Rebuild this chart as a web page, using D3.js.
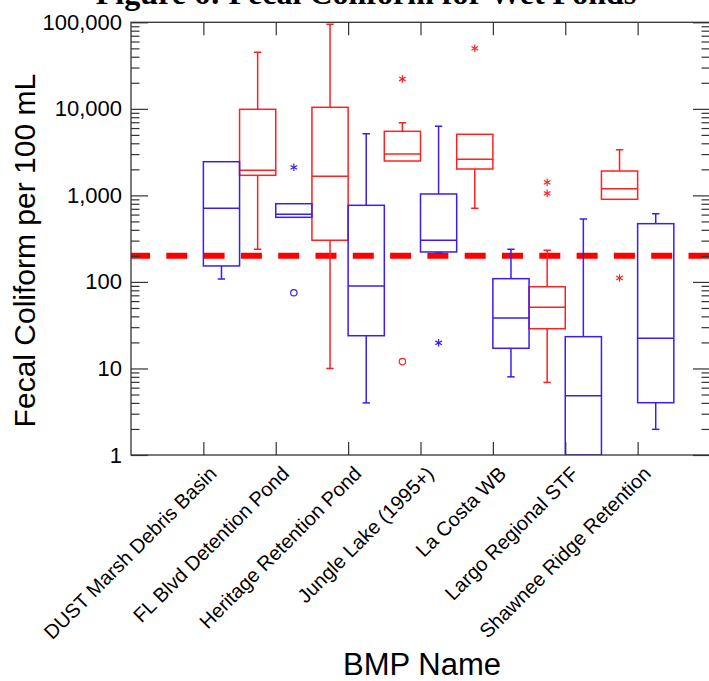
<!DOCTYPE html>
<html>
<head>
<meta charset="utf-8">
<script src="https://cdn.jsdelivr.net/npm/d3@7"></script>
<style>
  html, body { margin: 0; padding: 0; background: #fff; }
  svg { display: block; }
</style>
</head>
<body>
<div id="chart"></div>
<script>
// ---------------- data ----------------
const categories = ["DUST Marsh Debris Basin", "FL Blvd Detention Pond", "Heritage Retention Pond",
  "Jungle Lake (1995+)", "La Costa WB", "Largo Regional STF", "Shawnee Ridge Retention"];

// red boxes (left of each category tick)
const redMin    = [null, 238,   10,    2496, 709,  6.9,  901];
const redQ1     = [null, 1706,  303,   2496, 2018, 28.8, 901];
const redMedian = [null, 1946,  1663,  3007, 2612, 50.9, 1195];
const redQ3     = [null, 9880,  10420, 5500, 5080, 88,   1913];
const redMax    = [null, 44990, 94800, 6920, 5080, 232,  3373];

// blue boxes (right of each category tick)
const blueMin    = [108,  558, 4.0,  216,  8.0,  1,    1.98];
const blueQ1     = [153,  558, 23.9, 222,  17.1, 1,    4.02];
const blueMedian = [709,  604, 89.8, 303,  38.3, 4.85, 22.3];
const blueQ3     = [2449, 801, 768,  1038, 109,  23.3, 471];
const blueMax    = [2449, 801, 5164, 6282, 238,  533,  614];

// outliers: [category index, value, mark]
const redOutliers  = [[3, 22130, "*"], [3, 12, "o"], [4, 50070, "*"], [5, 1416, "*"], [5, 1057, "*"], [6, 111, "*"]];
const blueOutliers = [[1, 2110, "*"], [1, 75, "o"], [3, 19.8, "*"]];

const yMajorTicks = [1, 10, 100, 1000, 10000, 100000];
const threshold = [200];

const titleText = "Figure 6: Fecal Coliform for Wet Ponds";
const yTitle = "Fecal Coliform per 100 mL";
const xTitle = "BMP Name";

// ---------------- layout ----------------
const W = 709, H = 681;
const plot = { left: 131, right: 710, top: 22.3, bottom: 455 };
const RED = "#ff2020", BLUE = "#3a1ef0", AXIS = "#333";
const sans = "'Liberation Sans', Arial, sans-serif";

const svg = d3.select("#chart").append("svg").attr("width", W).attr("height", H);

const x = d3.scaleLinear().domain([0, categories.length + 1]).range([plot.left, plot.right]);
const y = d3.scaleLog().domain([1, 100000]).range([plot.bottom, plot.top]);
const boxW = x(0.5) - x(0);

const minorTicks = [];
yMajorTicks.slice(0, -1).forEach(d => { for (let k = 2; k <= 9; k++) minorTicks.push(d * k); });

svg.append("defs").append("clipPath").attr("id", "clip")
  .append("rect").attr("x", plot.left).attr("y", plot.top)
  .attr("width", plot.right - plot.left).attr("height", plot.bottom - plot.top);

const g = svg.append("g").attr("clip-path", "url(#clip)");

// threshold dashed line
g.selectAll("line.thr").data(threshold).join("line")
  .attr("class", "thr")
  .attr("x1", plot.left).attr("x2", plot.right)
  .attr("y1", d => y(d)).attr("y2", d => y(d))
  .attr("stroke", "#ff0000").attr("stroke-width", 6)
  .attr("stroke-dasharray", "21,16.3").attr("stroke-dashoffset", 2);

function drawBoxes(color, side, mins, q1s, meds, q3s, maxs) {
  const data = categories.map((c, i) => ({ i, min: mins[i], q1: q1s[i], med: meds[i], q3: q3s[i], max: maxs[i] }))
    .filter(d => d.med != null);
  const cx = d => x(d.i + 1) + side * boxW / 2;
  const grp = g.append("g").attr("stroke", color).attr("stroke-width", 1.5).attr("fill", "none");
  // whiskers
  grp.selectAll("line.wu").data(data.filter(d => d.max > d.q3)).join("line")
    .attr("x1", cx).attr("x2", cx).attr("y1", d => y(d.q3)).attr("y2", d => y(d.max));
  grp.selectAll("line.cu").data(data.filter(d => d.max > d.q3)).join("line")
    .attr("x1", d => cx(d) - 3.7).attr("x2", d => cx(d) + 3.7).attr("y1", d => y(d.max)).attr("y2", d => y(d.max));
  grp.selectAll("line.wl").data(data.filter(d => d.min < d.q1)).join("line")
    .attr("x1", cx).attr("x2", cx).attr("y1", d => y(d.q1)).attr("y2", d => y(d.min));
  grp.selectAll("line.cl").data(data.filter(d => d.min < d.q1)).join("line")
    .attr("x1", d => cx(d) - 3.7).attr("x2", d => cx(d) + 3.7).attr("y1", d => y(d.min)).attr("y2", d => y(d.min));
  // boxes
  grp.selectAll("rect").data(data).join("rect")
    .attr("x", d => cx(d) - boxW / 2).attr("width", boxW)
    .attr("y", d => y(d.q3)).attr("height", d => y(d.q1) - y(d.q3));
  grp.selectAll("line.med").data(data).join("line")
    .attr("x1", d => cx(d) - boxW / 2).attr("x2", d => cx(d) + boxW / 2)
    .attr("y1", d => y(d.med)).attr("y2", d => y(d.med));
}

function drawOutliers(color, side, list) {
  const grp = g.append("g").attr("stroke", color).attr("stroke-width", 1.2).attr("fill", "none");
  const px = d => x(d[0] + 1) + side * boxW / 2;
  grp.selectAll("circle").data(list.filter(d => d[2] === "o")).join("circle")
    .attr("cx", px).attr("cy", d => y(d[1])).attr("r", 3.2);
  const ast = grp.selectAll("g.ast").data(list.filter(d => d[2] === "*")).join("g")
    .attr("transform", d => `translate(${px(d)},${y(d[1])})`);
  [0, 60, -60].forEach(a => {
    ast.append("line").attr("x1", 0).attr("x2", 0).attr("y1", -3.8).attr("y2", 3.8)
      .attr("transform", `rotate(${a})`);
  });
}

drawBoxes(RED, -1, redMin, redQ1, redMedian, redQ3, redMax);
drawBoxes(BLUE, 1, blueMin, blueQ1, blueMedian, blueQ3, blueMax);
drawOutliers(RED, -1, redOutliers);
drawOutliers(BLUE, 1, blueOutliers);

// ---------------- axes ----------------
const catTicks = categories.map((c, i) => i + 1);
function styleAxis(sel) {
  sel.select(".domain").remove();
  sel.selectAll(".tick line").attr("stroke", AXIS).attr("stroke-width", 1.2);
  sel.selectAll(".tick text").attr("fill", "#000").attr("font-family", sans).attr("font-size", 22);
}

svg.append("g").attr("transform", `translate(${plot.left},0)`)
  .call(d3.axisLeft(y).tickValues(yMajorTicks).tickFormat(d3.format(",")).tickSize(-17).tickPadding(9))
  .call(styleAxis);
svg.append("g").attr("transform", `translate(${plot.left},0)`)
  .call(d3.axisLeft(y).tickValues(minorTicks).tickFormat("").tickSize(-8.5))
  .call(styleAxis);
svg.append("g").attr("transform", `translate(${plot.right},0)`)
  .call(d3.axisRight(y).tickValues(yMajorTicks).tickFormat("").tickSize(-17))
  .call(styleAxis);
svg.append("g").attr("transform", `translate(${plot.right},0)`)
  .call(d3.axisRight(y).tickValues(minorTicks).tickFormat("").tickSize(-8.5))
  .call(styleAxis);
svg.append("g").attr("transform", `translate(0,${plot.bottom})`)
  .call(d3.axisBottom(x).tickValues(catTicks).tickFormat("").tickSize(-13))
  .call(styleAxis);
svg.append("g").attr("transform", `translate(0,${plot.top})`)
  .call(d3.axisTop(x).tickValues(catTicks).tickFormat("").tickSize(-13))
  .call(styleAxis);

// frame
svg.append("rect").attr("x", plot.left).attr("y", plot.top)
  .attr("width", plot.right - plot.left).attr("height", plot.bottom - plot.top)
  .attr("fill", "none").attr("stroke", AXIS).attr("stroke-width", 1.3);

// category labels
svg.append("g").selectAll("text").data(categories).join("text")
  .attr("transform", (d, i) => `translate(${x(i + 1) + 14.5},${plot.bottom + 20}) rotate(-45)`)
  .attr("text-anchor", "end")
  .attr("font-family", sans).attr("font-size", 20).attr("fill", "#000")
  .text(d => d);

// titles (the title sits partly above the top edge, as in the reference)
svg.append("text").attr("x", 366).attr("y", 3.5).attr("text-anchor", "middle")
  .attr("font-family", "'Liberation Serif', 'Times New Roman', serif").attr("font-weight", "bold")
  .attr("font-size", 32).attr("fill", "#000").text(titleText);

svg.append("text").attr("transform", `translate(34.5,${(plot.top + plot.bottom) / 2 + 12}) rotate(-90)`)
  .attr("text-anchor", "middle").attr("font-family", sans).attr("font-size", 30).attr("fill", "#000")
  .text(yTitle);

svg.append("text").attr("x", (plot.left + plot.right) / 2 + 1.5).attr("y", 675).attr("text-anchor", "middle")
  .attr("font-family", sans).attr("font-size", 31).attr("fill", "#000").text(xTitle);
</script>
</body>
</html>
